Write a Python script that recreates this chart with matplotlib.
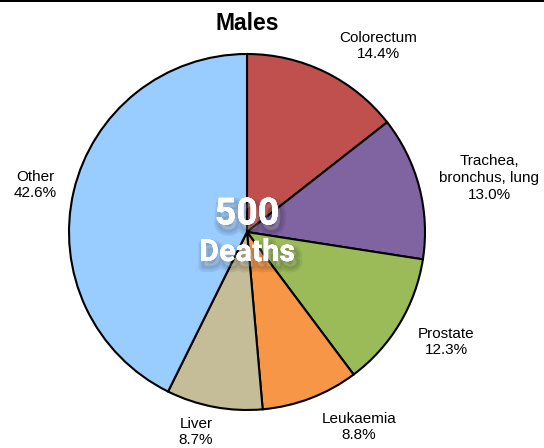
import matplotlib
matplotlib.use('Agg')
import matplotlib.pyplot as plt
import matplotlib.patheffects as pe

# data
labels = ['Colorectum', 'Trachea,\nbronchus, lung', 'Prostate', 'Leukaemia', 'Liver', 'Other']
shares = [14.4, 13.0, 12.3, 8.8, 8.7, 42.6]
colors = ['#C0504D', '#8064A2', '#9BBB59', '#F79646', '#C4BD97', '#99CCFF']
# label anchor points (pixels from top-left)
label_pos = [(378, 46), (489, 178), (446, 342), (359, 427), (196, 432), (35, 185)]
total_deaths = 500

W, H = 544, 448
fig = plt.figure(figsize=(W / 100, H / 100), dpi=100)
ax = fig.add_axes([0, 0, 1, 1])

cx, cy, r = 247, H - 232, 178
ax.pie(shares, colors=colors, startangle=90, counterclock=False,
       center=(cx, cy), radius=r, frame=True,
       wedgeprops=dict(edgecolor='black', linewidth=1.5))
ax.set_xlim(0, W)
ax.set_ylim(0, H)
ax.set_aspect('equal')
ax.axis('off')

for lab, v, (px, py) in zip(labels, shares, label_pos):
    ax.text(px, H - py, f'{lab}\n{v:.1f}%', ha='center', va='center',
            fontsize=11, family='Liberation Sans', linespacing=1.25)

ax.text(cx, H - 23, 'Males', ha='center', va='center', fontsize=16.5,
        fontweight='bold', family='Liberation Sans')

# soft drop shadow: a few faint offset layers
shadow = []
for w in (8, 5, 2):
    shadow.append(pe.withStroke(linewidth=w, foreground='black', alpha=0.07, offset=(2, -4)))
shadow.append(pe.Normal())

ax.text(cx, H - 214, str(total_deaths), ha='center', va='center', fontsize=27,
        fontweight='bold', color='white', family='Roboto', path_effects=shadow)
ax.text(cx, H - 252, 'Deaths', ha='center', va='center', fontsize=22,
        fontweight='bold', color='white', family='Roboto', path_effects=shadow)

# black band along the top edge
fig.add_artist(plt.Rectangle((0, 1 - 2.5 / H), 1, 2.5 / H, transform=fig.transFigure,
                             color='black', lw=0))

fig.savefig('out.png', dpi=100)
